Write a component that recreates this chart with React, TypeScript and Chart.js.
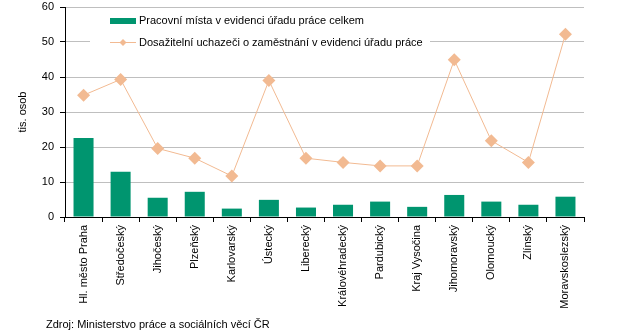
import { useEffect, useRef } from "react";
import { Chart, registerables } from "chart.js";

Chart.register(...registerables);

const categories = [
  "Hl. město Praha",
  "Středočeský",
  "Jihočeský",
  "Plzeňský",
  "Karlovarský",
  "Ústecký",
  "Liberecký",
  "Královéhradecký",
  "Pardubický",
  "Kraj Vysočina",
  "Jihomoravský",
  "Olomoucký",
  "Zlínský",
  "Moravskoslezský",
];
const jobVacancies = [22.6, 12.9, 5.5, 7.2, 2.4, 4.9, 2.7, 3.5, 4.4, 2.9, 6.3, 4.4, 3.5, 5.8];
const jobSeekers = [34.8, 39.3, 19.6, 16.8, 11.7, 39.0, 16.8, 15.6, 14.6, 14.6, 44.9, 21.8, 15.6, 52.2];
const seriesNames = [
  "Pracovní místa v evidenci úřadu práce celkem",
  "Dosažitelní uchazeči o zaměstnání v evidenci úřadu práce",
];
const yAxisTitle = "tis. osob";
const sourceNote = "Zdroj: Ministerstvo práce a sociálních věcí ČR";

const GREEN = "#00956F";
const PEACH = "#F2BA92";
const FONT = '"Liberation Sans", Arial, sans-serif';

const legendPlugin = {
  id: "customLegend",
  beforeDatasetsDraw(chart: any) {
    const ctx = chart.ctx;
    ctx.save();
    ctx.fillStyle = "#ffffff";
    ctx.fillRect(90, 10, 340, 40);
    ctx.fillStyle = GREEN;
    ctx.fillRect(110, 18, 26, 6);
    ctx.strokeStyle = PEACH;
    ctx.lineWidth = 1;
    ctx.beginPath();
    ctx.moveTo(110, 42.5);
    ctx.lineTo(136, 42.5);
    ctx.stroke();
    ctx.fillStyle = PEACH;
    ctx.beginPath();
    ctx.moveTo(123, 39);
    ctx.lineTo(126.5, 42.5);
    ctx.lineTo(123, 46);
    ctx.lineTo(119.5, 42.5);
    ctx.closePath();
    ctx.fill();
    ctx.fillStyle = "#000000";
    ctx.font = "11px " + FONT;
    ctx.textBaseline = "middle";
    ctx.textAlign = "left";
    ctx.fillText(seriesNames[0], 139, 21);
    ctx.fillText(seriesNames[1], 139, 42.5);
    ctx.restore();
  },
  afterDraw(chart: any) {
    const ctx = chart.ctx;
    ctx.save();
    ctx.fillStyle = "#000000";
    ctx.font = "11px " + FONT;
    ctx.textBaseline = "middle";
    ctx.textAlign = "left";
    ctx.fillText(sourceNote, 46, 325);
    ctx.restore();
  },
};

export default function App() {
  const ref = useRef<HTMLCanvasElement>(null);
  useEffect(() => {
    document.body.style.margin = "0";
    const chart = new Chart(ref.current!, {
      type: "bar",
      data: {
        labels: categories,
        datasets: [
          {
            type: "line",
            label: seriesNames[1],
            data: jobSeekers,
            borderColor: PEACH,
            backgroundColor: PEACH,
            borderWidth: 1,
            pointStyle: "rectRot",
            pointRadius: 6.5,
            pointBackgroundColor: PEACH,
            pointBorderColor: PEACH,
            pointBorderWidth: 0,
            tension: 0,
            order: 0,
          } as any,
          {
            type: "bar",
            label: seriesNames[0],
            data: jobVacancies,
            backgroundColor: GREEN,
            borderWidth: 0,
            categoryPercentage: 1,
            barPercentage: 0.54,
            order: 1,
          },
        ],
      },
      options: {
        responsive: false,
        animation: false,
        layout: { padding: { top: 7, right: 51, left: 0, bottom: 0 } },
        plugins: {
          legend: { display: false },
          tooltip: { enabled: false },
        },
        scales: {
          x: {
            offset: true,
            grid: {
              offset: true,
              drawOnChartArea: false,
              drawTicks: true,
              tickLength: 5,
              tickColor: "#000000",
            },
            border: { color: "#000000", width: 1 },
            ticks: {
              minRotation: 90,
              maxRotation: 90,
              autoSkip: false,
              padding: 3,
              color: "#000000",
              font: { family: FONT, size: 11 },
            },
            afterFit(scale: any) {
              scale.height = 115;
              scale.paddingLeft = 0;
              scale.paddingRight = 0;
            },
          },
          y: {
            min: 0,
            max: 60,
            ticks: {
              stepSize: 10,
              padding: 6,
              color: "#000000",
              font: { family: FONT, size: 11 },
            },
            grid: {
              color: "#BFBFBF",
              tickLength: 5,
              tickColor: "#000000",
            },
            border: { color: "#000000", width: 1 },
            title: {
              display: true,
              text: yAxisTitle,
              color: "#000000",
              font: { family: FONT, size: 11 },
              padding: { top: 16, bottom: 0 },
            },
            afterFit(scale: any) {
              scale.width = 65;
              scale.paddingTop = 0;
              scale.paddingBottom = 0;
            },
          },
        },
      },
      plugins: [legendPlugin],
    });
    return () => chart.destroy();
  }, []);
  return (
    <div style={{ width: 635, height: 332 }}>
      <canvas ref={ref} width={635} height={332} />
    </div>
  );
}
